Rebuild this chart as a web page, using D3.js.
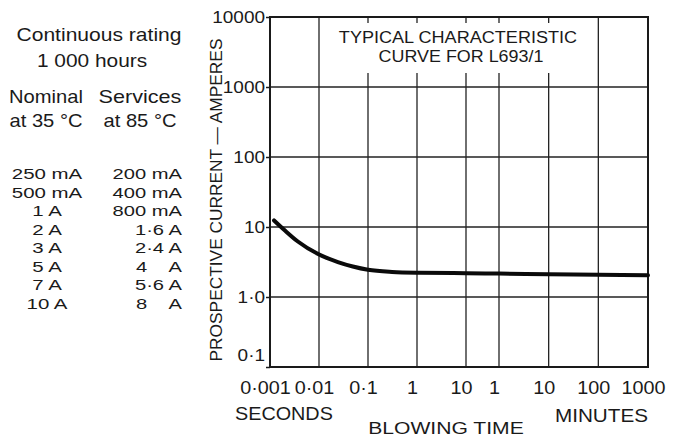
<!DOCTYPE html>
<html>
<head>
<meta charset="utf-8">
<script src="https://cdn.jsdelivr.net/npm/d3@7"></script>
<style>
  html, body { margin: 0; padding: 0; background: #fff; }
  svg { display: block; }
  text { font-family: "Liberation Sans", Arial, sans-serif; fill: #1a1a1a; white-space: pre; }
</style>
</head>
<body>
<svg id="chart" width="675" height="438"></svg>
<script>
// ---- data ----
const xTickVals   = [0.001, 0.01, 0.1, 1, 10, 60, 600, 6000, 60000]; // seconds (60 s = 1 min ...)
const xTickLabels = ["0·001", "0·01", "0·1", "1", "10", "1", "10", "100", "1000"];
const yTickVals   = [0.1, 1, 10, 100, 1000, 10000];
const yTickLabels = ["0·1", "1·0", "10", "100", "1000", "10000"];

const curveTime = [0.00121, 0.00202, 0.0037, 0.0096, 0.0243, 0.049, 0.1, 0.31, 1.1, 10, 60, 600, 6000, 60000];
const curveAmps = [12.4, 8.91, 6.21, 4.11, 3.16, 2.73, 2.45, 2.28, 2.22, 2.19, 2.16, 2.12, 2.08, 2.04];

const nominalRatings  = ["250 mA", "500 mA", "1 A", "2 A", "3 A", "5 A", "7 A", "10 A"];
const servicesRatings = ["200 mA", "400 mA", "800 mA", "1·6 A", "2·4 A", "4    A", "5·6 A", "8    A"];

const titleLines = ["TYPICAL CHARACTERISTIC", "CURVE FOR L693/1"];

// ---- setup ----
const svg = d3.select("#chart");
const x = d3.scaleLog().domain([0.001, 10, 60, 60000]).range([270, 466, 499, 648]);
const y = d3.scaleLog().domain([0.1, 10000]).range([367, 17]);

function T(g, px, py, str, size, sx, anchor, rot) {
  return g.append("text")
    .attr("transform", `translate(${px},${py})` + (rot ? ` rotate(${rot})` : "") + ` scale(${sx},1)`)
    .attr("text-anchor", anchor || "middle")
    .style("font-size", size + "px")
    .text(str);
}

// ---- grid ----
const grid = svg.append("g").attr("stroke", "#222").attr("stroke-width", 1.3);
grid.selectAll("line.v").data(xTickVals.slice(1, -1)).join("line")
  .attr("class", "v")
  .attr("x1", d => x(d)).attr("x2", d => x(d))
  .attr("y1", y(10000)).attr("y2", y(0.1));
grid.selectAll("line.h").data(yTickVals.slice(1, -1)).join("line")
  .attr("class", "h")
  .attr("x1", x(0.001)).attr("x2", x(60000))
  .attr("y1", d => y(d)).attr("y2", d => y(d));

// title box (white patch over grid)
svg.append("rect").attr("x", 328).attr("y", 23).attr("width", 264).attr("height", 50).attr("fill", "#fff");
T(svg, 458, 43, titleLines[0], 16, 1.13);
T(svg, 461, 62, titleLines[1], 16, 1.12);

// frame
svg.append("rect")
  .attr("x", x(0.001)).attr("y", y(10000))
  .attr("width", x(60000) - x(0.001)).attr("height", y(0.1) - y(10000))
  .attr("fill", "none").attr("stroke", "#1a1a1a").attr("stroke-width", 2);

// ---- axes ----
const yAxis = svg.append("g").attr("transform", `translate(${x(0.001)},0)`)
  .call(d3.axisLeft(y).tickValues(yTickVals).tickFormat((d, i) => yTickLabels[i]).tickSize(4));
yAxis.select(".domain").remove();
yAxis.selectAll(".tick line").attr("stroke", "#1a1a1a").attr("stroke-width", 1.5);
yAxis.selectAll(".tick text")
  .attr("x", 0).attr("dy", d => d === 0.1 ? "-0.38em" : "0.36em")
  .attr("transform", "translate(-5,0) scale(1.15,1)")
  .style("font-size", "16.5px");

const xAxis = svg.append("g").attr("transform", `translate(0,${y(0.1)})`)
  .call(d3.axisBottom(x).tickValues(xTickVals).tickFormat((d, i) => xTickLabels[i]).tickSize(0));
xAxis.select(".domain").remove();
xAxis.selectAll(".tick text")
  .attr("y", 0).attr("dy", 0)
  .attr("transform", "translate(-5,27) scale(1.1,1)")
  .style("font-size", "18px");

// axis titles
T(svg, 222, 200, "PROSPECTIVE CURRENT — AMPERES", 16.5, 1.05, "middle", -90);
T(svg, 235, 420, "SECONDS", 18, 1.1, "start");
T(svg, 648, 422, "MINUTES", 18, 1.15, "end");
T(svg, 446, 434, "BLOWING TIME", 16.5, 1.28, "middle");

// ---- curve ----
const pts = curveTime.map((t, i) => [t, curveAmps[i]]);
svg.append("path")
  .attr("d", d3.line().x(d => x(d[0])).y(d => y(d[1])).curve(d3.curveMonotoneX)(pts))
  .attr("fill", "none").attr("stroke", "#0a0a0a").attr("stroke-width", 4).attr("stroke-linecap", "round");

// ---- left table ----
const tbl = svg.append("g");
T(tbl, 99, 41, "Continuous rating", 18, 1.17);
T(tbl, 92, 67, "1 000 hours", 18, 1.16);
T(tbl, 46, 103, "Nominal", 18, 1.12);
T(tbl, 46, 127, "at 35 °C", 18, 1.12);
T(tbl, 140, 103, "Services", 18, 1.2);
T(tbl, 140, 127, "at 85 °C", 18, 1.12);
nominalRatings.forEach((s, i) => T(tbl, 47, 179 + i * 18.5, s, 15.5, 1.32, "middle"));
servicesRatings.forEach((s, i) => T(tbl, 182, 179 + i * 18.5, s, 15.5, 1.3, "end"));
</script>
</body>
</html>
